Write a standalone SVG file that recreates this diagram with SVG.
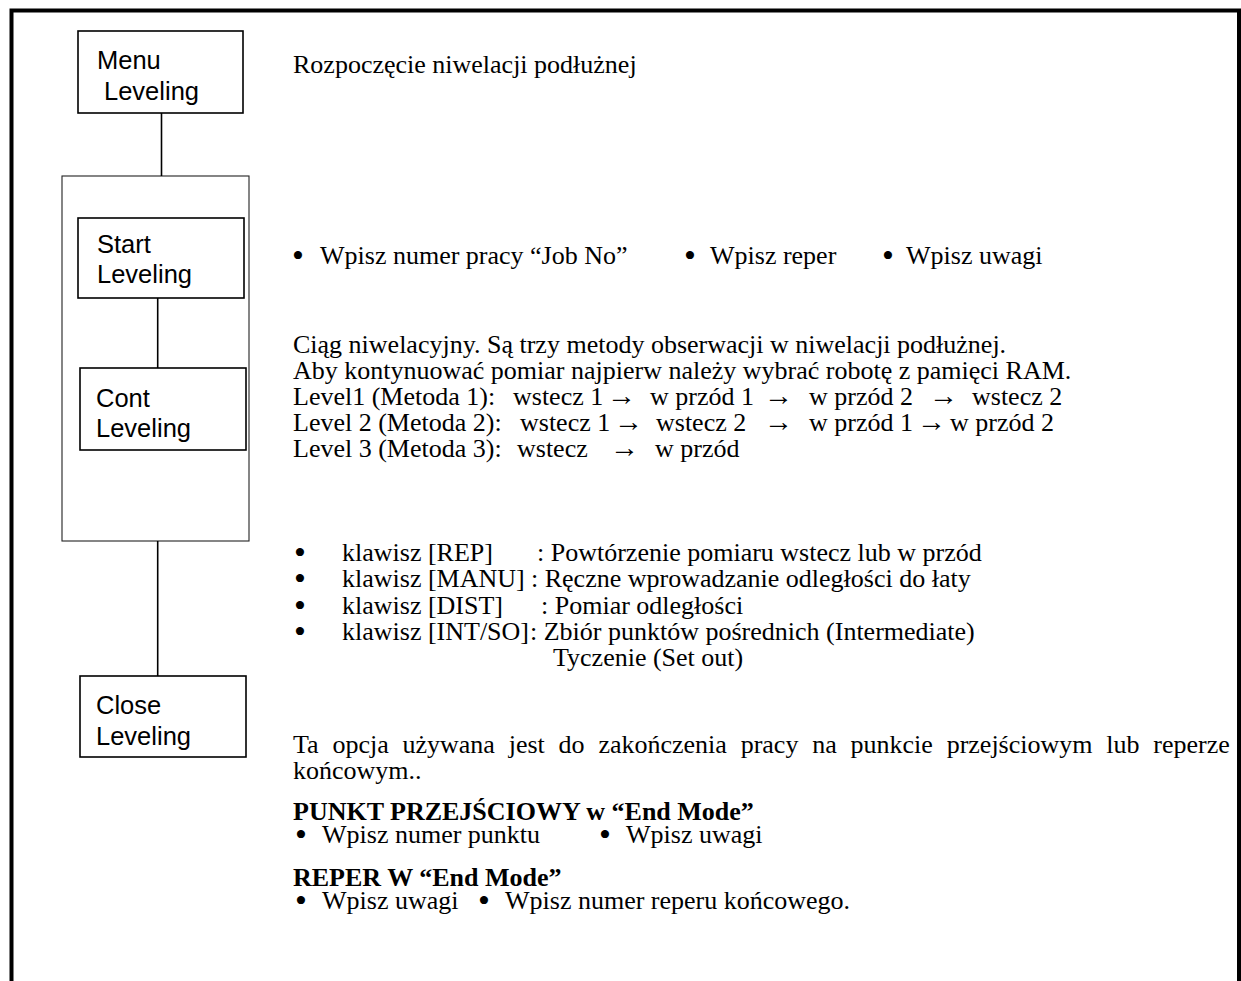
<svg xmlns="http://www.w3.org/2000/svg" width="1241" height="981" viewBox="0 0 1241 981">
<style>
.box{fill:#fff;stroke:#000;stroke-width:1.6}
.cont{fill:#fff;stroke:#222;stroke-width:1.1}
.lbl{font-family:"Liberation Sans",Arial,sans-serif;font-size:25.5px;fill:#000}
.t{font-family:"Liberation Serif","Times New Roman",serif;font-size:26px;fill:#000}
.b{font-weight:bold}
.bu{font-size:34px}
.ar{font-size:29px}
.edge{stroke:#000;stroke-width:1.6;fill:none}
</style>
<rect x="0" y="0" width="1241" height="981" fill="#fff"/>
<path d="M11.5,981 V10.5 H1239 V981" fill="none" stroke="#000" stroke-width="4"/>

<g id="group-leveling"><rect class="cont" x="62" y="176" width="187" height="365"/></g>

<g id="connectors">
<line class="edge" x1="161.5" y1="113" x2="161.5" y2="176"/>
<line class="edge" x1="157.7" y1="298" x2="157.7" y2="368"/>
<line class="edge" x1="157.7" y1="541" x2="157.7" y2="676"/>
</g>

<g id="node-menu"><rect class="box" x="78" y="31" width="165" height="82"/>
<text class="lbl" x="97" y="69">Menu</text><text class="lbl" x="104" y="100">Leveling</text></g>
<g id="node-start"><rect class="box" x="78" y="218" width="166" height="80"/>
<text class="lbl" x="97" y="253">Start</text><text class="lbl" x="97" y="283">Leveling</text></g>
<g id="node-cont"><rect class="box" x="80" y="368" width="166" height="82"/>
<text class="lbl" x="96" y="407">Cont</text><text class="lbl" x="96" y="437">Leveling</text></g>
<g id="node-close"><rect class="box" x="80" y="676" width="166" height="81"/>
<text class="lbl" x="96" y="714">Close</text><text class="lbl" x="96" y="745">Leveling</text></g>

<g id="texts">
<text class="t" x="293" y="73">Rozpoczęcie niwelacji podłużnej</text>

<text class="t" y="264"><tspan class="bu" x="292" dy="3">•</tspan><tspan x="320" dy="-3">Wpisz numer pracy “Job No”</tspan><tspan class="bu" x="684" dy="3">•</tspan><tspan x="710" dy="-3">Wpisz reper</tspan><tspan class="bu" x="882" dy="3">•</tspan><tspan x="906" dy="-3">Wpisz uwagi</tspan></text>

<text class="t" x="293" y="353">Ciąg niwelacyjny. Są trzy metody obserwacji w niwelacji podłużnej.</text>
<text class="t" x="293" y="379">Aby kontynuować pomiar najpierw należy wybrać robotę z pamięci RAM.</text>
<text class="t" y="405"><tspan x="293">Level1 (Metoda 1):</tspan><tspan x="513">wstecz 1</tspan><tspan class="ar" x="607">→</tspan><tspan x="650">w przód 1</tspan><tspan class="ar" x="764">→</tspan><tspan x="809">w przód 2</tspan><tspan class="ar" x="929">→</tspan><tspan x="972">wstecz 2</tspan></text>
<text class="t" y="431"><tspan x="293">Level 2 (Metoda 2):</tspan><tspan x="520">wstecz 1</tspan><tspan class="ar" x="614">→</tspan><tspan x="656">wstecz 2</tspan><tspan class="ar" x="764">→</tspan><tspan x="809">w przód 1</tspan><tspan class="ar" x="917">→</tspan><tspan x="950">w przód 2</tspan></text>
<text class="t" y="457"><tspan x="293">Level 3 (Metoda 3):</tspan><tspan x="517">wstecz</tspan><tspan class="ar" x="610">→</tspan><tspan x="655">w przód</tspan></text>

<text class="t" y="561"><tspan class="bu" x="294" dy="3">•</tspan><tspan x="342" dy="-3">klawisz [REP]</tspan><tspan x="537">: Powtórzenie pomiaru wstecz lub w przód</tspan></text>
<text class="t" y="587"><tspan class="bu" x="294" dy="3">•</tspan><tspan x="342" dy="-3">klawisz [MANU]</tspan><tspan x="531">: Ręczne wprowadzanie odległości do łaty</tspan></text>
<text class="t" y="614"><tspan class="bu" x="294" dy="3">•</tspan><tspan x="342" dy="-3">klawisz [DIST]</tspan><tspan x="541">: Pomiar odległości</tspan></text>
<text class="t" y="640"><tspan class="bu" x="294" dy="3">•</tspan><tspan x="342" dy="-3">klawisz [INT/SO]</tspan><tspan x="530">: Zbiór punktów pośrednich (Intermediate)</tspan></text>
<text class="t" x="553" y="666">Tyczenie (Set out)</text>

<text class="t" x="293" y="753" word-spacing="7.3">Ta opcja używana jest do zakończenia pracy na punkcie przejściowym lub reperze</text>
<text class="t" x="293" y="779">końcowym..</text>

<text class="t b" x="293" y="820">PUNKT PRZEJŚCIOWY w “End Mode”</text>
<text class="t" y="843"><tspan class="bu" x="295" dy="3">•</tspan><tspan x="322" dy="-3">Wpisz numer punktu</tspan><tspan class="bu" x="599" dy="3">•</tspan><tspan x="626" dy="-3">Wpisz uwagi</tspan></text>

<text class="t b" x="293" y="886">REPER W “End Mode”</text>
<text class="t" y="909"><tspan class="bu" x="295" dy="3">•</tspan><tspan x="322" dy="-3">Wpisz uwagi</tspan><tspan class="bu" x="478" dy="3">•</tspan><tspan x="505" dy="-3">Wpisz numer reperu końcowego.</tspan></text>
</g>
</svg>
